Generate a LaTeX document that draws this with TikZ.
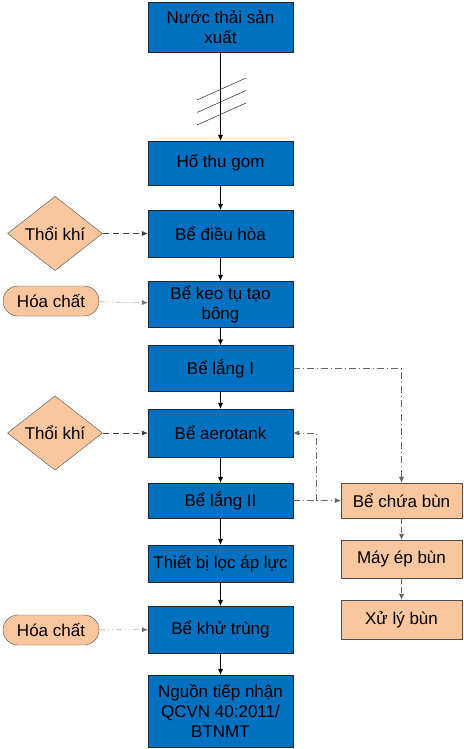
\documentclass[tikz,border=0pt]{standalone}
\usepackage{fontspec}
\setmainfont{Liberation Sans}
\usetikzlibrary{shapes.geometric,arrows.meta}
\definecolor{tankblue}{RGB}{0,112,192}
\definecolor{peach}{RGB}{250,198,158}
\tikzset{
  tank/.style={draw=black!85,fill=tankblue,minimum width=145pt,align=center,
    font=\fontsize{17}{20}\selectfont,inner sep=2pt},
  sludge/.style={draw=black!70,fill=peach,minimum width=121pt,align=center,
    font=\fontsize{17}{20}\selectfont,inner sep=2pt},
  air/.style={diamond,draw=black!70,fill=peach,minimum width=95pt,minimum height=74pt,
    inner sep=0pt,font=\fontsize{17}{20}\selectfont},
  chem/.style={draw=black!70,fill=peach,rounded corners=15pt,minimum width=96pt,
    minimum height=30pt,inner sep=2pt,font=\fontsize{17}{20}\selectfont},
  flow/.style={-{Latex[length=6pt,width=5pt]},black},
  airline/.style={flow,black!75,dash pattern=on 6pt off 4pt},
  chemline/.style={flow,black!55,dash pattern=on 6pt off 3pt on 1pt off 3pt on 1pt off 3pt},
  mudline/.style={flow,black!60,dash pattern=on 7pt off 3pt on 1pt off 3pt}
}
\begin{document}
\begin{tikzpicture}[x=1pt,y=-1pt]
\useasboundingbox (0,0) rectangle (463,749);
% main line
\node (water)    at (220.5, 27.0) [tank,minimum height=50pt] {Nước thải sản\\xuất};
\node (gom)      at (220.5,163.0) [tank,minimum height=44pt] {Hố thu gom};
\node (dieuhoa)  at (220.5,233.5) [tank,minimum height=47pt] {Bể điều hòa};
\node (keotu)    at (220.5,304.0) [tank,minimum height=46pt] {Bể keo tụ tạo\\bông};
\node (lang1)    at (220.5,368.5) [tank,minimum height=46pt] {Bể lắng I};
\node (aero)     at (220.5,433.0) [tank,minimum height=48pt] {Bể aerotank};
\node (lang2)    at (220.5,500.5) [tank,minimum height=35pt] {Bể lắng II};
\node (loc)      at (220.5,563.5) [tank,minimum height=37pt] {Thiết bị lọc áp lực};
\node (khutrung) at (220.5,629.5) [tank,minimum height=47pt] {Bể khử trùng};
\node (nguon)    at (220.5,711.0) [tank,minimum height=72pt] {Nguồn tiếp nhận\\QCVN 40:2011/\\BTNMT};

% inputs
\node (air1)  at ( 55.0,233.5) [air]  {Thổi khí};
\node (chem1) at ( 51.0,301.0) [chem] {Hóa chất};
\node (air2)  at ( 55.0,433.0) [air]  {Thổi khí};
\node (chem2) at ( 51.0,630.0) [chem] {Hóa chất};

% sludge line
\node (chua)  at (401.5,500.5) [sludge,minimum height=35pt] {Bể chứa bùn};
\node (mayep) at (401.5,559.0) [sludge,minimum height=38pt] {Máy ép bùn};
\node (xuly)  at (401.5,619.5) [sludge,minimum height=39pt] {Xử lý bùn};
\coordinate (split) at (316,500.5);

\draw [flow] (water)    -- (gom);
\draw [flow] (gom)      -- (dieuhoa);
\draw [flow] (dieuhoa)  -- (keotu);
\draw [flow] (keotu)    -- (lang1);
\draw [flow] (lang1)    -- (aero);
\draw [flow] (aero)     -- (lang2);
\draw [flow] (lang2)    -- (loc);
\draw [flow] (loc)      -- (khutrung);
\draw [flow] (khutrung) -- (nguon);
\foreach \d in {0,12.5,25}
  \draw [black] (197,100+\d) -- (246,78+\d);

\draw [airline]  (air1)  -- (dieuhoa);
\draw [airline]  (air2)  -- (aero);
\draw [chemline] (chem1) -- (keotu);
\draw [chemline] (chem2) -- (khutrung);

\draw [mudline] (lang1.east) -| (chua.north);
\draw [mudline] (lang2.east) -- (chua.west);
\draw [mudline] (split) |- (aero.east);
\draw [mudline,dash pattern=on 6pt off 3pt] (chua)  -- (mayep);
\draw [mudline,dash pattern=on 6pt off 3pt] (mayep) -- (xuly);
\end{tikzpicture}
\end{document}
